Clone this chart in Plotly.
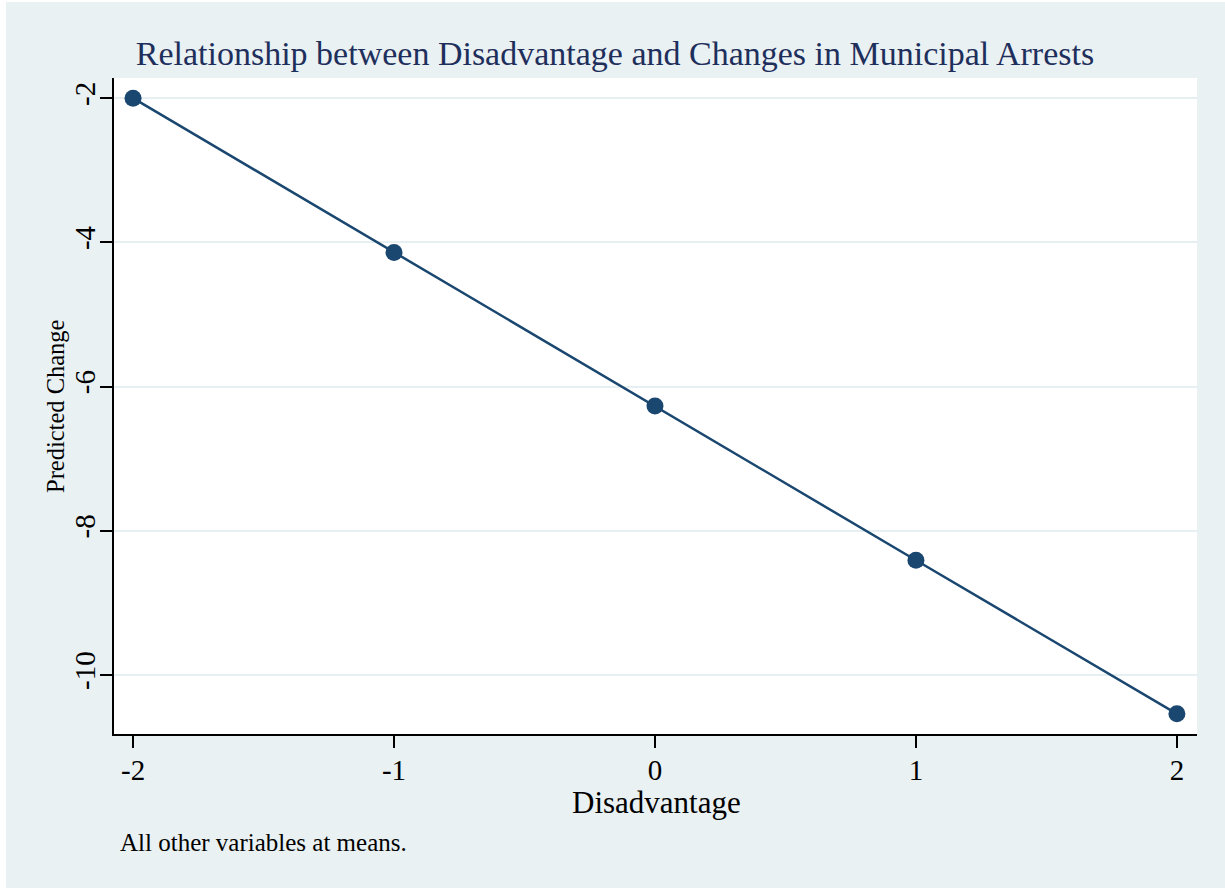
import plotly.graph_objects as go

# Predicted change in municipal arrests across disadvantage levels
disadvantage = [-2, -1, 0, 1, 2]
predicted_change = [-2.00, -4.14, -6.27, -8.41, -10.54]

x_ticks = [-2, -1, 0, 1, 2]
y_ticks = [-2, -4, -6, -8, -10]

NAVY = "#1A476F"
BG = "#E9F1F3"
SERIF = "Liberation Serif, Times New Roman, serif"

# plot-area geometry in pixels, used to place free text in paper units
PW, PH = 1083, 656
L, T = 114, 78

fig = go.Figure()
fig.add_trace(go.Scatter(
    x=disadvantage,
    y=predicted_change,
    mode="lines+markers",
    line=dict(color=NAVY, width=2.5),
    marker=dict(color=NAVY, size=17),
    showlegend=False,
    cliponaxis=False,
))

fig.update_layout(
    width=1225,
    height=888,
    margin=dict(l=L, r=28, t=T, b=154),
    paper_bgcolor=BG,
    plot_bgcolor="white",
    font=dict(family=SERIF, color="black"),
    title=dict(
        text="Relationship between Disadvantage and Changes in Municipal Arrests",
        x=0.502, xref="container", xanchor="center",
        y=0.940, yref="container", yanchor="middle",
        font=dict(family=SERIF, size=34, color="#1F2F5C"),
    ),
    xaxis=dict(
        range=[-2.073, 2.077],
        tickvals=x_ticks,
        ticktext=[str(v) for v in x_ticks],
        ticklabelstandoff=-3,
        showgrid=False,
        zeroline=False,
        showline=True, linecolor="black", linewidth=1.5,
        ticks="outside", ticklen=12, tickwidth=1.5, tickcolor="black",
        tickfont=dict(size=29),
    ),
    yaxis=dict(
        range=[-10.82, -1.72],
        tickvals=y_ticks,
        ticktext=[str(v) for v in y_ticks],
        tickangle=-90,
        ticklabelstandoff=-6,
        showgrid=True, gridcolor="#E6EFF1", gridwidth=2,
        zeroline=False,
        showline=True, linecolor="black", linewidth=1.5,
        ticks="outside", ticklen=12, tickwidth=1.5, tickcolor="black",
        tickfont=dict(size=29),
    ),
    shapes=[
        # thin white frame along the left and top edges of the canvas
        dict(type="rect", xref="paper", yref="paper",
             x0=-L / PW, x1=-(L - 6) / PW, y0=-154 / PH, y1=(PH + T) / PH,
             fillcolor="white", line=dict(width=0), layer="below"),
        dict(type="rect", xref="paper", yref="paper",
             x0=-L / PW, x1=(1225 - L) / PW, y0=(PH + T - 2) / PH, y1=(PH + T) / PH,
             fillcolor="white", line=dict(width=0), layer="below"),
    ],
    annotations=[
        dict(text="Disadvantage",
             xref="paper", yref="paper",
             x=(656 - L) / PW, y=-(802 - T - PH) / PH,
             xanchor="center", yanchor="middle", showarrow=False,
             font=dict(family=SERIF, size=31, color="black")),
        dict(text="Predicted Change",
             xref="paper", yref="paper",
             x=(55 - L) / PW, y=0.5, textangle=-90,
             xanchor="center", yanchor="middle", showarrow=False,
             font=dict(family=SERIF, size=24.5, color="black")),
        dict(text="All other variables at means.",
             xref="paper", yref="paper",
             x=(118 - L) / PW, y=-(842 - T - PH) / PH,
             xanchor="left", yanchor="middle", showarrow=False,
             font=dict(family=SERIF, size=25, color="black")),
    ],
)

fig.write_html("out.html")
